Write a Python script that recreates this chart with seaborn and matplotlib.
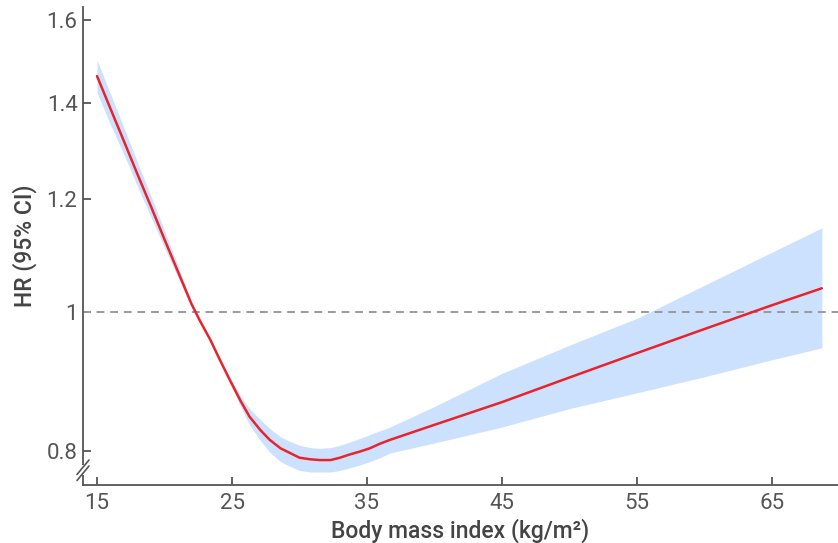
import numpy as np
import pandas as pd
import seaborn as sns
import matplotlib.pyplot as plt
from matplotlib.ticker import FixedLocator, FixedFormatter, NullLocator

# --- data (BMI vs hazard ratio with 95% CI) ---
bmi = [15, 16, 17, 18, 19, 20, 21, 22, 22.3, 22.6, 23.4, 24.1, 24.85, 25.6, 26.3,
       27.1, 27.8, 28.6, 29.3, 30.0, 30.8, 31.5, 32.3, 33.0, 33.7, 34.5, 35.2,
       35.96, 36.7, 40, 45, 50, 55, 60, 65, 68.7]
hr = [1.462, 1.387, 1.316, 1.248, 1.185, 1.124, 1.067, 1.013, 1.0, 0.987, 0.956,
      0.926, 0.896, 0.868, 0.845, 0.827, 0.814, 0.803, 0.797, 0.791, 0.789, 0.788,
      0.788, 0.791, 0.795, 0.799, 0.803, 0.809, 0.814, 0.834, 0.865, 0.900, 0.936,
      0.973, 1.011, 1.039]
hr_upper = [1.500, 1.420, 1.345, 1.272, 1.205, 1.140, 1.077, 1.017, 1.0, 0.989,
            0.959, 0.929, 0.899, 0.875, 0.856, 0.841, 0.829, 0.818, 0.812, 0.807,
            0.804, 0.803, 0.804, 0.807, 0.811, 0.816, 0.821, 0.826, 0.831, 0.859,
            0.906, 0.948, 0.990, 1.044, 1.101, 1.145]
hr_lower = [1.423, 1.352, 1.288, 1.224, 1.165, 1.109, 1.057, 1.009, 1.0, 0.985,
            0.953, 0.923, 0.893, 0.860, 0.834, 0.813, 0.798, 0.786, 0.780, 0.775,
            0.773, 0.773, 0.773, 0.775, 0.778, 0.782, 0.786, 0.791, 0.797, 0.810,
            0.831, 0.856, 0.878, 0.901, 0.926, 0.944]

x_ticks = [15, 25, 35, 45, 55, 65]
y_ticks = [0.8, 1, 1.2, 1.4, 1.6]
y_tick_labels = ["0.8", "1", "1.2", "1.4", "1.6"]

df = pd.DataFrame({"bmi": bmi, "hr": hr, "lo": hr_lower, "hi": hr_upper})

sns.set_theme(style="ticks")
plt.rcParams["font.family"] = ["Roboto", "DejaVu Sans"]

fig = plt.figure(figsize=(8.38, 5.43), dpi=100)
ax = fig.add_axes([83 / 838, 58 / 543, 755 / 838, 478 / 543])

ax.fill_between(df["bmi"], df["lo"], df["hi"], color="#cce1fd", linewidth=0, zorder=1)
sns.lineplot(data=df, x="bmi", y="hr", color="#e8232b", linewidth=1.8, ax=ax, zorder=3)
ax.axhline(1, color="#9a9a9a", linestyle=(0, (4, 3)), linewidth=1.4, zorder=2)

ax.set_yscale("log")
ax.set_xlim(13.96, 69.9)
ax.set_ylim(0.757, 1.634)
ax.yaxis.set_major_locator(FixedLocator(y_ticks))
ax.yaxis.set_major_formatter(FixedFormatter(y_tick_labels))
ax.yaxis.set_minor_locator(NullLocator())
ax.set_xticks(x_ticks)
ax.set_xticklabels([str(t) for t in x_ticks])

for side in ["top", "right"]:
    ax.spines[side].set_visible(False)
for side in ["left", "bottom"]:
    ax.spines[side].set_color("#555555")
    ax.spines[side].set_linewidth(1.3)

ax.tick_params(axis="both", direction="in", length=6, width=1.3, color="#555555",
               labelsize=16, labelcolor="#555555")
ax.tick_params(axis="y", pad=4)
ax.tick_params(axis="x", pad=6)

ax.set_xlabel("Body mass index (kg/m²)", fontsize=16.5, fontweight="medium", color="#444444", labelpad=3)
ax.set_ylabel("HR (95% CI)", fontsize=16.5, fontweight="medium", color="#444444", labelpad=7)

# axis break marks on the y axis
trans = ax.transAxes
ax.add_patch(plt.Rectangle((-0.01, 10 / 478), 0.02, 10 / 478, transform=trans,
                           facecolor="white", edgecolor="none", clip_on=False, zorder=5))
for off in [0, 6]:
    y0 = (485 - 480 + off) / 478
    ax.plot([-6 / 755, 6 / 755], [y0 - 0.5 / 478, y0 + 14 / 478], transform=trans,
            color="#555555", linewidth=1.2, clip_on=False, zorder=6)

fig.savefig("out.png", dpi=100)
